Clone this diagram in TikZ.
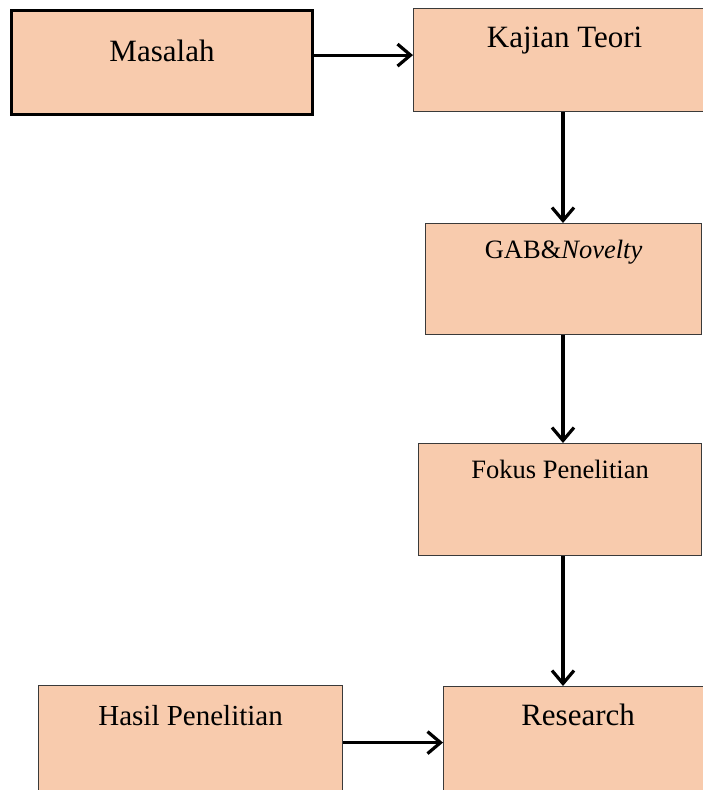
\documentclass[tikz,border=0pt]{standalone}
\usepackage{fontspec}
\setmainfont{Liberation Serif}
\usepackage{xcolor}
\usepackage{tikz}
\usetikzlibrary{arrows.meta}
\usetikzlibrary{calc}
\definecolor{boxcolor}{HTML}{F8CBAD}
\definecolor{edgecolor}{HTML}{3A3A3A}

\begin{document}
\begin{tikzpicture}[x=1pt,y=-1pt,
   kotak/.style={draw=edgecolor,fill=boxcolor,line width=1.2pt,inner sep=0pt,anchor=north west,font=\fontsize{31}{36}\selectfont},
   kecil/.style={font=\fontsize{26.5}{30}\selectfont},
   panah/.style={line width=3.2pt,-{Straight Barb[length=13pt,width=22pt]}}]
\useasboundingbox (0,0) rectangle (702,790);
% boxes (text sits near the top of each box)
\node[kotak,draw=black,line width=3pt,minimum width=301pt,text height=51pt,text depth=53pt] (masalah) at (10,9) {Masalah};
\node[kotak,minimum width=302pt,text height=39pt,text depth=64pt] (kajian) at (413,8) {Kajian Teori};
\node[kotak,kecil,minimum width=276pt,text height=35pt,text depth=76pt] (gab) at (425,223) {GAB\&\textit{Novelty}};
\node[kotak,kecil,minimum width=283pt,text height=35pt,text depth=77pt] (fokus) at (418,443) {Fokus Penelitian};
\node[kotak,font=\fontsize{29}{34}\selectfont,minimum width=304pt,text height=40pt,text depth=74pt] (hasil) at (38,685) {Hasil Penelitian};
\node[kotak,minimum width=269pt,text height=39pt,text depth=75pt] (research) at (443,686) {Research};
% arrows
\coordinate (spine) at (563,0);
\draw[panah] ([yshift=5pt]kajian.west -| masalah.east) -- ([yshift=5pt]kajian.west);
\draw[panah] (spine |- kajian.south) -- (spine |- gab.north);
\draw[panah] (spine |- gab.south) -- (spine |- fokus.north);
\draw[panah] (spine |- fokus.south) -- (spine |- research.north);
\draw[panah] (hasil.east) -- (hasil.east -| research.west);
\end{tikzpicture}
\end{document}
